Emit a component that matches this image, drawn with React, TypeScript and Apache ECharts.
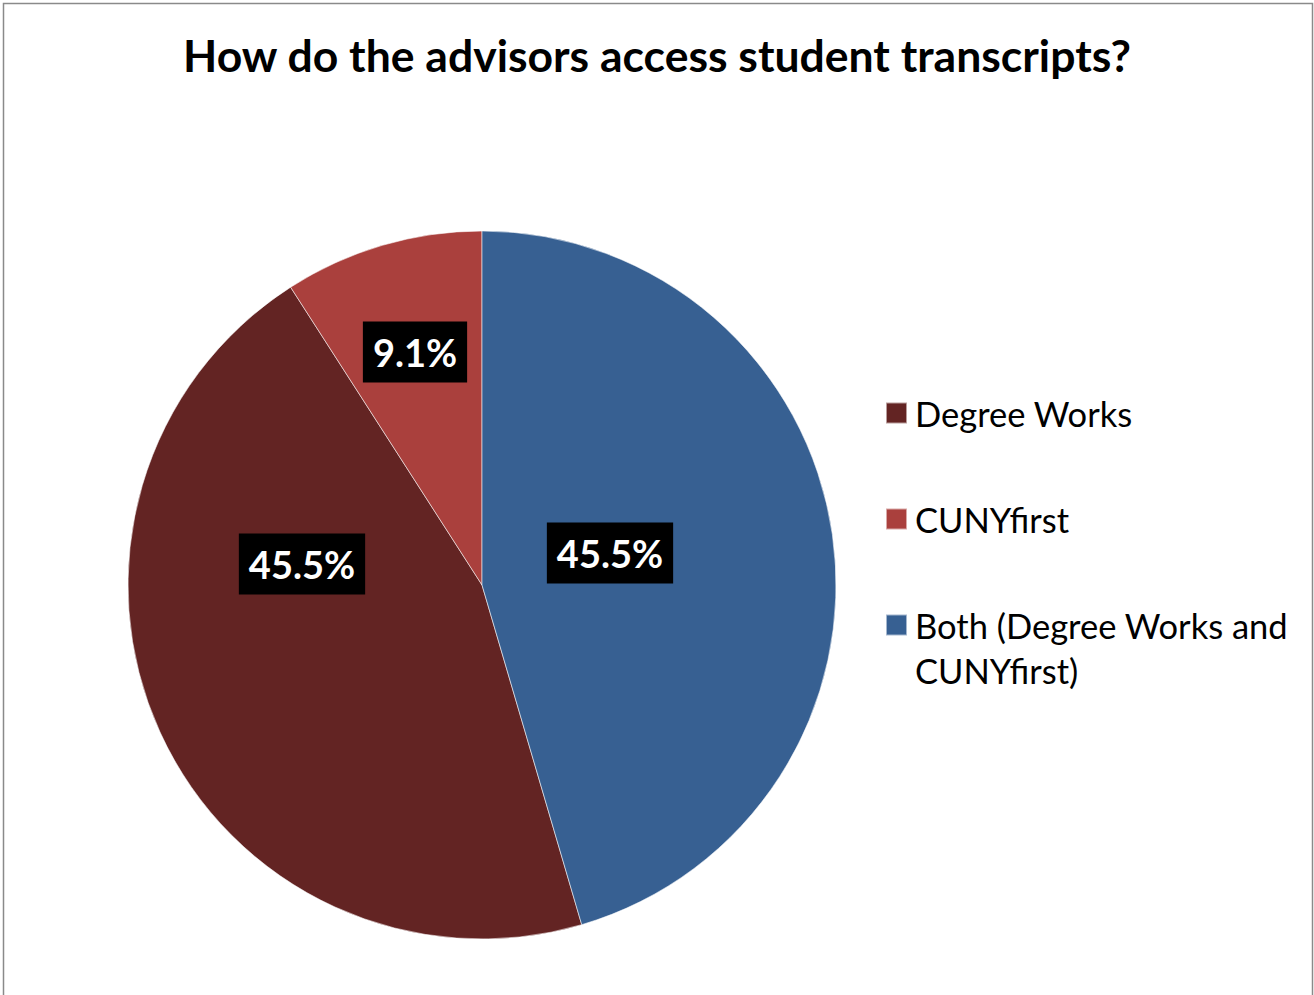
import React, { useEffect, useRef } from "react";
import * as echarts from "echarts";

const TITLE = "How do the advisors access student transcripts?";
const categories = ["Degree Works", "CUNYfirst", "Both (Degree Works and CUNYfirst)"];
const counts = [5, 1, 5];
const colors = ["#632423", "#AA403D", "#376092"];

const FONT = "Lato, 'Noto Sans', sans-serif";

export default function App() {
  const ref = useRef<HTMLDivElement>(null);
  useEffect(() => {
    if (!ref.current) return;
    const chart = echarts.init(ref.current, null, { renderer: "svg" });
    const total = counts.reduce((a, b) => a + b, 0);
    const firstShare = counts[2] / total; // "Both" drawn first clockwise from 12 o'clock
    const startAngle = 90 - firstShare * 360 + 360;
    const labelPos = [
      [302, 564],
      [415, 352],
      [610, 553],
    ];
    chart.setOption({
      animation: false,
      backgroundColor: "#ffffff",
      title: {
        text: TITLE,
        left: "center",
        top: 27,
        textStyle: { fontFamily: FONT, fontSize: 44.5, fontWeight: "bold", color: "#000" },
      },
      legend: [
        {
          orient: "vertical",
          left: 885,
          top: 390.5,
          padding: 0,
          itemWidth: 21,
          itemHeight: 21,
          itemGap: 61,
          icon: "rect",
          data: categories.slice(0, 2),
          selectedMode: false,
          textStyle: { fontFamily: FONT, fontSize: 34.5, color: "#000", lineHeight: 45, padding: [0, 0, 0, 3] },
        },
        {
          orient: "vertical",
          left: 885,
          top: 557.5,
          padding: 0,
          itemWidth: 21,
          itemHeight: 21,
          icon: "rect",
          data: categories.slice(2),
          selectedMode: false,
          formatter: (name: string) => "\n" + name.replace(" CUNYfirst", "\nCUNYfirst"),
          textStyle: { fontFamily: FONT, fontSize: 34.5, color: "#000", lineHeight: 45, padding: [0, 0, 0, 3] },
        },
      ],
      graphic: [
        {
          type: "rect",
          shape: { x: 3.5, y: 3.5, width: 1309, height: 1000 },
          style: { fill: "none", stroke: "#8a8a8a", lineWidth: 1.5 },
          silent: true,
        },
      ],
      series: [
        {
          type: "pie",
          center: [482, 585],
          radius: 354,
          startAngle,
          clockwise: true,
          avoidLabelOverlap: false,
          color: colors,
          itemStyle: { borderColor: "rgba(255,255,255,0.55)", borderWidth: 1 },
          label: {
            show: true,
            position: "inside",
            formatter: (p: any) => ((p.value / total) * 100).toFixed(1) + "%",
            color: "#fff",
            fontFamily: FONT,
            fontSize: 38,
            fontWeight: "bold",
            backgroundColor: "#000",
            padding: [8, 10, 7, 10],
            lineHeight: 46,
            align: "center",
            verticalAlign: "middle",
          },
          labelLine: { show: false },
          labelLayout: (params: any) => ({
            x: labelPos[params.dataIndex][0],
            y: labelPos[params.dataIndex][1],
          }),
          emphasis: { disabled: true },
          data: categories.map((name, i) => ({ name, value: counts[i] })),
        },
      ],
    });
    return () => chart.dispose();
  }, []);
  return (
    <div
      ref={ref}
      style={{ position: "absolute", left: 0, top: 0, width: 1314, height: 995, background: "#fff" }}
    />
  );
}
